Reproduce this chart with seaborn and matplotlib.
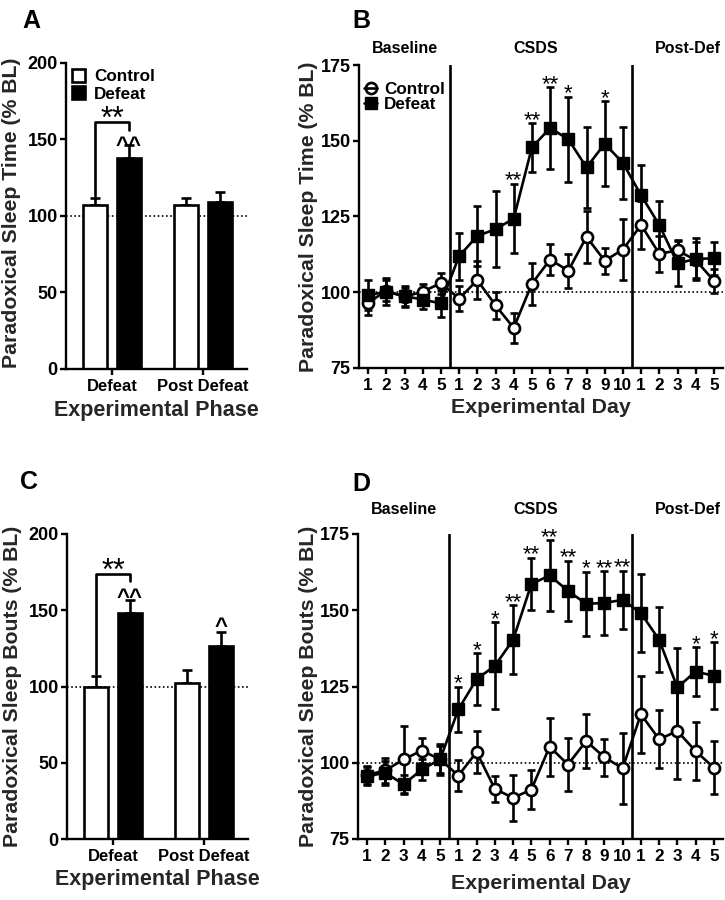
import numpy as np
import pandas as pd
import matplotlib
matplotlib.use("Agg")
import matplotlib.pyplot as plt
import matplotlib.transforms as mtransforms
from matplotlib.lines import Line2D
from matplotlib.patches import Patch
import seaborn as sns

# ---------------- data ----------------
phases = ["Defeat", "Post Defeat"]
groups = ["Control", "Defeat"]

# Panel A: paradoxical sleep time (% BL)
a_control = [107, 107.5]
a_control_sem = [4.5, 4]
a_defeat = [138, 109]
a_defeat_sem = [8.5, 6.5]

# Panel C: paradoxical sleep bouts (% BL)
c_control = [100, 102]
c_control_sem = [7, 9]
c_defeat = [148, 126.5]
c_defeat_sem = [8.5, 9.5]

day_labels = ["1", "2", "3", "4", "5",
              "1", "2", "3", "4", "5", "6", "7", "8", "9", "10",
              "1", "2", "3", "4", "5"]
period_names = ["Baseline", "CSDS", "Post-Def"]

# Panel B: sleep time by day
b_control = [96.5, 100.5, 98.5, 100.2, 103, 97.9, 104, 95.7, 88.2, 102.8,
             110.8, 107.1, 118.3, 110.4, 114.1, 122.2, 112.7, 113.8, 110.6, 103.8]
b_control_sem = [4, 3.5, 3, 2.5, 3.5, 4, 6.3, 4.4, 5, 7,
                 5, 5.6, 8.5, 4.3, 10, 7.8, 6, 3.5, 6, 4]
b_defeat = [99, 100.2, 98.7, 97.6, 96.3, 111.9, 118.6, 120.8, 124.3, 147.8,
            154.2, 150.5, 141.2, 149, 142.7, 132, 122.2, 109.5, 111, 111.2]
b_defeat_sem = [5, 4.5, 3.5, 3, 4.5, 7.7, 10, 12.5, 11.5, 8,
                13.5, 14, 13.5, 14, 12, 10, 8, 7.5, 7, 5.5]
b_star_idx = [8, 9, 10, 11, 13]
b_star_txt = ["**", "**", "**", "*", "*"]

# Panel D: sleep bouts by day
d_control = [96, 97.5, 101.1, 104, 101.1, 95.8, 103.5, 91.4, 88.5, 91.2,
             105.3, 99.4, 107.1, 101.8, 98.2, 115.9, 107.7, 110.4, 103.8, 98.4]
d_control_sem = [3, 4, 11, 4, 5, 5, 7, 4.2, 7.5, 6.5,
                 9.5, 8.7, 8.9, 6, 11.7, 12.6, 9.5, 15.7, 9.5, 8.7]
d_defeat = [95.6, 96.7, 92.9, 97.8, 101.1, 117.5, 127.4, 131.8, 140.3, 158.6,
            161.4, 156.4, 152.1, 152.4, 153.4, 149.1, 140.3, 124.7, 129.9, 128.5]
d_defeat_sem = [3, 4, 3, 3.5, 4.5, 7.5, 8.6, 14.3, 11.3, 8.6,
                11.5, 9.8, 10.5, 10.4, 9.6, 12.9, 10.7, 13, 7.9, 11]
d_star_idx = [5, 6, 7, 8, 9, 10, 11, 12, 13, 14, 18, 19]
d_star_txt = ["*", "*", "*", "**", "**", "**", "**", "*", "**", "**", "*", "*"]

# ---------------- style ----------------
sns.set_style("ticks")
plt.rcParams["font.family"] = ["Liberation Sans", "DejaVu Sans"]
plt.rcParams["font.weight"] = "bold"
plt.rcParams["axes.labelweight"] = "bold"
plt.rcParams["axes.linewidth"] = 1.7
plt.rcParams["xtick.major.width"] = 1.7
plt.rcParams["ytick.major.width"] = 1.7
plt.rcParams["xtick.major.size"] = 4
plt.rcParams["ytick.major.size"] = 4
plt.rcParams["xtick.color"] = "black"
plt.rcParams["ytick.color"] = "black"
plt.rcParams["axes.edgecolor"] = "black"
plt.rcParams["text.color"] = "black"

W, H = 725, 900
fig = plt.figure(figsize=(W / 100, H / 100), dpi=100)


def px_axes(left, right, top, bottom):
    return fig.add_axes([left / W, 1 - bottom / H, (right - left) / W, (bottom - top) / H])


axA = px_axes(66, 247, 63, 369)
axB = px_axes(359, 723, 65, 368)
axC = px_axes(67, 248, 534, 839)
axD = px_axes(358, 723, 534, 839)

LW = 1.9
YLAB_FS = 15.3
TICK_FS = 13


def bar_panel(ax, ctrl, ctrl_sem, dfe, dfe_sem, ylabel):
    df = pd.DataFrame({
        "phase": phases * 2,
        "group": [groups[0]] * 2 + [groups[1]] * 2,
        "value": list(ctrl) + list(dfe),
    })
    sns.barplot(data=df, x="phase", y="value", hue="group", order=phases,
                hue_order=groups, palette={"Control": "white", "Defeat": "black"},
                edgecolor="black", linewidth=LW, width=0.748, gap=0.294,
                errorbar=None, legend=False, ax=ax, zorder=2)
    sems = list(ctrl_sem) + list(dfe_sem)
    vals = list(ctrl) + list(dfe)
    centers = []
    for p, v, s in zip(ax.patches, vals, sems):
        xc = p.get_x() + p.get_width() / 2
        centers.append(xc)
        ax.errorbar([xc], [v], yerr=[[0], [s]], fmt="none", ecolor="black",
                    elinewidth=LW, capsize=3.8, capthick=LW, zorder=1.5)
    ax.axhline(100, color="black", lw=1.2, ls=(0, (1, 1.5)), zorder=1)
    ax.set_ylim(0, 200)
    ax.set_yticks([0, 50, 100, 150, 200])
    ax.set_xlim(-0.505, 1.484)
    sns.despine(ax=ax)
    ax.set_ylabel(ylabel, fontsize=YLAB_FS, fontweight="bold")
    ax.set_xlabel("Experimental Phase", fontsize=15.5, fontweight="bold")
    ax.tick_params(axis="y", labelsize=TICK_FS, pad=2)
    ax.tick_params(axis="x", labelsize=12, pad=3)
    for t in ax.get_xticklabels() + ax.get_yticklabels():
        t.set_fontweight("bold")
    return centers


STAR_KW = dict(ha="center", va="baseline", fontweight="normal")

# ---------------- panel A ----------------
cA = bar_panel(axA, a_control, a_control_sem, a_defeat, a_defeat_sem,
               "Paradoxical Sleep Time (% BL)")
axA.plot([cA[0], cA[0], cA[2], cA[2]], [113, 161.6, 161.6, 156], color="black", lw=LW)
axA.text((cA[0] + cA[2]) / 2, 157.5, "**", fontsize=22, **STAR_KW)
axA.text(cA[2], a_defeat[0] + a_defeat_sem[0] - 4.5, "^^", ha="center", va="baseline",
         fontsize=16)
axA.yaxis.set_label_coords(-0.25, 0.51)
axA.xaxis.set_label_coords(0.5, -0.10)
legA = axA.legend(handles=[Patch(facecolor="white", edgecolor="black", lw=LW, label="Control"),
                           Patch(facecolor="black", edgecolor="black", lw=LW, label="Defeat")],
                  loc="upper left", bbox_to_anchor=(-0.035, 1.02), frameon=False,
                  fontsize=12.3, handlelength=0.8, handleheight=0.8, handletextpad=0.5,
                  labelspacing=0.12, borderaxespad=0.3)
for t in legA.get_texts():
    t.set_fontweight("bold")

# ---------------- panel C ----------------
cC = bar_panel(axC, c_control, c_control_sem, c_defeat, c_defeat_sem,
               "Paradoxical Sleep Bouts (% BL)")
axC.plot([cC[0], cC[0], cC[2], cC[2]], [108.5, 174, 174, 169], color="black", lw=LW)
axC.text((cC[0] + cC[2]) / 2, 170, "**", fontsize=22, **STAR_KW)
axC.text(cC[2], c_defeat[0] + c_defeat_sem[0] - 2.5, "^^", ha="center", va="baseline",
         fontsize=16)
axC.text(cC[3], c_defeat[1] + c_defeat_sem[1] - 1.2, "^", ha="center", va="baseline",
         fontsize=16)
axC.yaxis.set_label_coords(-0.247, 0.5)
axC.xaxis.set_label_coords(0.5, -0.097)


# ---------------- line panels ----------------
def line_panel(ax, ctrl, ctrl_sem, dfe, dfe_sem, star_idx, star_txt, ylabel, head_y,
               xlab_y, legend=False):
    pos = np.arange(len(day_labels))
    dfc = pd.DataFrame({"day": pos, "value": ctrl})
    dfd = pd.DataFrame({"day": pos, "value": dfe})
    ax.axhline(100, color="black", lw=1.2, ls=(0, (1, 1.5)), zorder=0.5)
    for xv in (4.5, 14.5):
        ax.axvline(xv, color="black", lw=LW, zorder=1)
    ax.errorbar(pos, ctrl, yerr=ctrl_sem, fmt="none", ecolor="black", elinewidth=LW,
                capsize=3.2, capthick=LW, zorder=2)
    ax.errorbar(pos, dfe, yerr=dfe_sem, fmt="none", ecolor="black", elinewidth=LW,
                capsize=3.2, capthick=LW, zorder=2)
    sns.lineplot(data=dfc, x="day", y="value", color="black", lw=LW, marker="o",
                 markersize=8, markerfacecolor="white", markeredgecolor="black",
                 markeredgewidth=1.9, errorbar=None, ax=ax, zorder=3)
    sns.lineplot(data=dfd, x="day", y="value", color="black", lw=LW, marker="s",
                 markersize=8.2, markerfacecolor="black", markeredgecolor="black",
                 markeredgewidth=1, errorbar=None, ax=ax, zorder=4)
    for i, s in zip(star_idx, star_txt):
        ax.text(pos[i], dfe[i] + dfe_sem[i] - 0.9, s, fontsize=16, **STAR_KW)
    ax.set_xlim(-0.5, len(day_labels) - 0.5)
    ax.set_ylim(75, 175)
    ax.set_yticks([75, 100, 125, 150, 175])
    ax.set_xticks(pos)
    ax.set_xticklabels(day_labels)
    sns.despine(ax=ax)
    ax.set_ylabel(ylabel, fontsize=YLAB_FS, fontweight="bold")
    ax.set_xlabel("Experimental Day", fontsize=15.4, fontweight="bold")
    ax.tick_params(axis="y", labelsize=TICK_FS, pad=2)
    ax.tick_params(axis="x", labelsize=12.3, pad=3)
    for t in ax.get_xticklabels() + ax.get_yticklabels():
        t.set_fontweight("bold")
    trans = mtransforms.blended_transform_factory(ax.transData, ax.transAxes)
    for name, xc in zip(period_names, [2.03, 9.23, 17.58]):
        ax.text(xc, head_y, name, transform=trans, ha="center", va="center",
                fontsize=11.5, fontweight="bold")
    ax.xaxis.set_label_coords(0.5, xlab_y)
    if legend:
        handles = [Line2D([], [], color="black", lw=LW, marker="o", markersize=8,
                          markerfacecolor="none", markeredgewidth=1.9, label="Control"),
                   Line2D([], [], color="black", lw=LW, marker="s", markersize=8.2,
                          markerfacecolor="black", label="Defeat")]
        leg = ax.legend(handles=handles, loc="upper left", bbox_to_anchor=(-0.02, 0.985),
                        frameon=False, fontsize=12.3, handlelength=0.8,
                        handletextpad=0.4, labelspacing=0.0, borderaxespad=0.3)
        for t in leg.get_texts():
            t.set_fontweight("bold")


line_panel(axB, b_control, b_control_sem, b_defeat, b_defeat_sem, b_star_idx, b_star_txt,
           "Paradoxical Sleep Time (% BL)", 1.056, -0.099, legend=True)
axB.yaxis.set_label_coords(-0.113, 0.5)
line_panel(axD, d_control, d_control_sem, d_defeat, d_defeat_sem, d_star_idx, d_star_txt,
           "Paradoxical Sleep Bouts (% BL)", 1.08, -0.114)
axD.yaxis.set_label_coords(-0.109, 0.5)

# panel letters
for letter, x, y in [("A", 22, 9), ("B", 352, 9), ("C", 20, 470), ("D", 352, 472)]:
    fig.text(x / W, 1 - y / H, letter, ha="left", va="top", fontsize=18, fontweight="bold")

fig.savefig("out.png", dpi=100)
